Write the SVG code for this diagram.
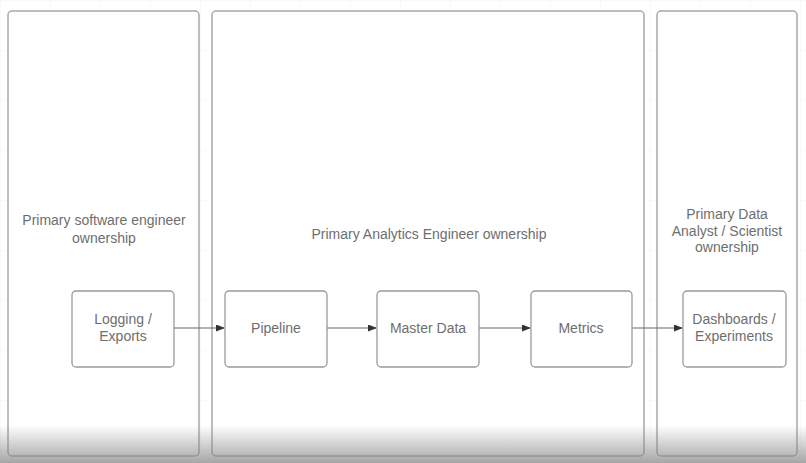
<svg xmlns="http://www.w3.org/2000/svg" width="806" height="463" viewBox="0 0 806 463">
  <style>
    .lane { fill: #ffffff; stroke: #a8a8a8; stroke-width: 1.5; }
    .node { fill: #ffffff; stroke: #9a9a9a; stroke-width: 1.3; }
    .lbl { font-family: "Liberation Sans", Arial, sans-serif; font-size: 14px; fill: #6e6e6e; text-anchor: middle; }
    .conn { stroke: #666666; stroke-width: 1.2; fill: none; marker-end: url(#arrow); }
  </style>
  <defs>
    <pattern id="grid" width="50" height="50" patternUnits="userSpaceOnUse">
      <path d="M 50 0 L 0 0 0 50" fill="none" stroke="#f4f4f4" stroke-width="1"/>
    </pattern>
    <marker id="arrow" markerWidth="9" markerHeight="7" refX="8" refY="3.5" orient="auto" markerUnits="userSpaceOnUse">
      <path d="M0,0 L9,3.5 L0,7 Z" fill="#333333"/>
    </marker>
    <linearGradient id="fade" x1="0" y1="0" x2="0" y2="1">
      <stop offset="0" stop-color="#888888" stop-opacity="0"/>
      <stop offset="1" stop-color="#888888" stop-opacity="0.75"/>
    </linearGradient>
  </defs>
  <rect x="0" y="0" width="806" height="463" fill="#ffffff"/>
  <rect x="0" y="0" width="806" height="463" fill="url(#grid)"/>

  <g id="lane-software">
    <rect class="lane" x="8" y="11" width="191" height="445" rx="4"/>
    <text class="lbl" x="104" y="225">Primary software engineer</text>
    <text class="lbl" x="104" y="243">ownership</text>
  </g>
  <g id="lane-analytics">
    <rect class="lane" x="212" y="11" width="432" height="445" rx="4"/>
    <text class="lbl" x="429" y="239">Primary Analytics Engineer ownership</text>
  </g>
  <g id="lane-analyst">
    <rect class="lane" x="657" y="11" width="140" height="445" rx="4"/>
    <text class="lbl" x="727" y="219">Primary Data</text>
    <text class="lbl" x="727" y="236">Analyst / Scientist</text>
    <text class="lbl" x="727" y="252">ownership</text>
  </g>

  <g id="connectors">
    <line class="conn" x1="174" y1="328" x2="224" y2="328"/>
    <line class="conn" x1="327" y1="328" x2="376" y2="328"/>
    <line class="conn" x1="479" y1="328" x2="530" y2="328"/>
    <line class="conn" x1="632" y1="328" x2="682" y2="328"/>
  </g>

  <g id="node-logging">
    <rect class="node" x="72" y="291" width="102" height="76" rx="4"/>
    <text class="lbl" x="123" y="324">Logging /</text>
    <text class="lbl" x="123" y="341">Exports</text>
  </g>
  <g id="node-pipeline">
    <rect class="node" x="225" y="291" width="102" height="76" rx="4"/>
    <text class="lbl" x="276" y="333">Pipeline</text>
  </g>
  <g id="node-master">
    <rect class="node" x="377" y="291" width="102" height="76" rx="4"/>
    <text class="lbl" x="428" y="333">Master Data</text>
  </g>
  <g id="node-metrics">
    <rect class="node" x="531" y="291" width="101" height="76" rx="4"/>
    <text class="lbl" x="581" y="333">Metrics</text>
  </g>
  <g id="node-dashboards">
    <rect class="node" x="683" y="291" width="103" height="76" rx="4"/>
    <text class="lbl" x="734" y="324">Dashboards /</text>
    <text class="lbl" x="734" y="341">Experiments</text>
  </g>

  <rect x="0" y="425" width="806" height="38" fill="url(#fade)"/>
</svg>
